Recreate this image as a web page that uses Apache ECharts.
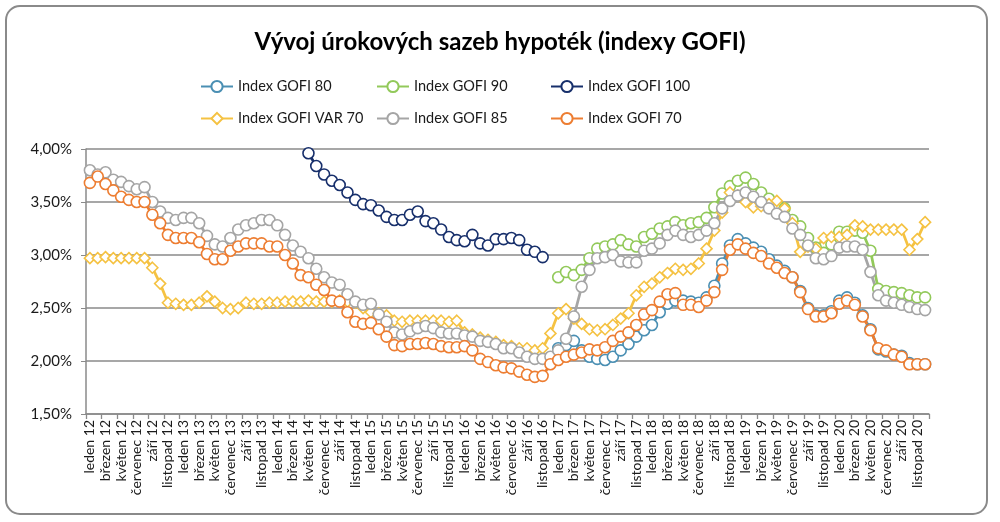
<!DOCTYPE html>
<html><head><meta charset="utf-8">
<script src="https://cdn.jsdelivr.net/npm/echarts@6/dist/echarts.min.js"></script>
<style>html,body{margin:0;padding:0;background:#fff}#c{width:1000px;height:522px}</style>
</head><body><div id="c"></div>
<script>
const monthNames = ['leden','únor','březen','duben','květen','červen','červenec','srpen','září','říjen','listopad','prosinec'];
const years = ['12','13','14','15','16','17','18','19','20'];
const categories = [];
years.forEach(y => monthNames.forEach(m => categories.push(m + ' ' + y)));

const yTicks = [1.5, 2.0, 2.5, 3.0, 3.5, 4.0];

const gofi80 = [
 null,null,null,null,null,null,null,null,null,null,null,null,
 null,null,null,null,null,null,null,null,null,null,null,null,
 null,null,null,null,null,null,null,null,null,null,null,null,
 null,null,null,null,null,null,null,null,null,null,null,null,
 null,null,null,null,null,null,null,null,null,null,null,null,
 2.12,2.15,2.19,2.10,2.04,2.02,2.01,2.04,2.10,2.16,2.23,2.29,
 2.34,2.46,2.54,2.57,2.57,2.56,2.55,2.60,2.71,2.92,3.09,3.15,
 3.11,3.07,3.03,2.96,2.90,2.85,2.79,2.66,2.50,2.43,2.43,2.47,
 2.57,2.60,2.55,2.43,2.30,2.11,2.09,2.06,2.05,1.98,1.97,1.97
];
const gofi90 = [
 null,null,null,null,null,null,null,null,null,null,null,null,
 null,null,null,null,null,null,null,null,null,null,null,null,
 null,null,null,null,null,null,null,null,null,null,null,null,
 null,null,null,null,null,null,null,null,null,null,null,null,
 null,null,null,null,null,null,null,null,null,null,null,null,
 2.79,2.84,2.81,2.86,2.97,3.06,3.08,3.10,3.14,3.10,3.08,3.17,
 3.20,3.25,3.27,3.31,3.28,3.30,3.31,3.35,3.45,3.58,3.65,3.70,
 3.73,3.67,3.59,3.53,3.48,3.44,3.33,3.27,3.16,3.07,3.02,3.10,
 3.22,3.22,3.23,3.21,3.04,2.68,2.66,2.65,2.64,2.62,2.60,2.60
];
const gofi100 = [
 null,null,null,null,null,null,null,null,null,null,null,null,
 null,null,null,null,null,null,null,null,null,null,null,null,
 null,null,null,null,3.96,3.84,3.76,3.70,3.66,3.59,3.52,3.48,
 3.47,3.42,3.36,3.33,3.33,3.38,3.41,3.32,3.30,3.24,3.17,3.14,
 3.13,3.19,3.11,3.09,3.15,3.15,3.16,3.14,3.05,3.03,2.98
];
const gofiVar70 = [
 2.97,2.97,2.98,2.97,2.97,2.97,2.97,2.97,2.88,2.73,2.55,2.54,
 2.53,2.53,2.55,2.61,2.56,2.50,2.49,2.50,2.55,2.54,2.54,2.55,
 2.55,2.56,2.56,2.56,2.57,2.56,2.56,2.56,2.57,2.56,2.55,2.50,
 2.46,2.45,2.43,2.38,2.37,2.38,2.38,2.38,2.38,2.38,2.37,2.38,
 2.27,2.25,2.22,2.20,2.18,2.15,2.14,2.12,2.12,2.10,2.12,2.26,
 2.45,2.49,2.40,2.35,2.30,2.29,2.30,2.34,2.40,2.45,2.62,2.70,
 2.73,2.79,2.83,2.87,2.86,2.87,2.92,3.06,3.23,3.40,3.59,3.56,
 3.50,3.45,3.46,3.48,3.51,3.44,3.30,3.03,3.08,3.06,3.16,3.17,
 3.17,3.19,3.28,3.27,3.24,3.24,3.24,3.24,3.24,3.05,3.15,3.31
];
const gofi85 = [
 3.80,3.76,3.78,3.71,3.69,3.65,3.62,3.64,3.50,3.41,3.35,3.33,
 3.35,3.35,3.30,3.18,3.10,3.08,3.16,3.24,3.28,3.30,3.33,3.33,
 3.28,3.19,3.09,3.03,2.97,2.87,2.79,2.74,2.72,2.63,2.56,2.53,
 2.54,2.44,2.37,2.27,2.25,2.28,2.31,2.33,2.31,2.27,2.26,2.26,
 2.24,2.23,2.19,2.18,2.16,2.12,2.12,2.08,2.04,2.02,2.02,2.04,
 2.10,2.21,2.42,2.70,2.86,2.97,2.98,3.00,2.94,2.93,2.93,3.04,
 3.06,3.11,3.19,3.23,3.19,3.17,3.19,3.23,3.30,3.44,3.51,3.56,
 3.59,3.55,3.50,3.44,3.39,3.36,3.25,3.19,3.09,2.97,2.96,2.99,
 3.07,3.08,3.08,3.05,2.84,2.62,2.57,2.55,2.53,2.51,2.49,2.48
];
const gofi70 = [
 3.68,3.74,3.67,3.61,3.55,3.52,3.50,3.50,3.38,3.30,3.19,3.16,
 3.16,3.16,3.12,3.01,2.96,2.96,3.04,3.08,3.11,3.11,3.11,3.08,
 3.08,3.00,2.92,2.81,2.79,2.72,2.67,2.57,2.56,2.46,2.37,2.35,
 2.36,2.30,2.23,2.15,2.14,2.16,2.16,2.17,2.16,2.14,2.13,2.13,
 2.14,2.10,2.02,1.99,1.96,1.94,1.93,1.90,1.87,1.85,1.86,1.97,
 2.01,2.04,2.06,2.08,2.11,2.10,2.13,2.19,2.23,2.27,2.34,2.44,
 2.48,2.56,2.63,2.64,2.53,2.53,2.51,2.57,2.65,2.86,3.05,3.10,
 3.06,3.02,2.99,2.92,2.88,2.83,2.79,2.65,2.49,2.42,2.42,2.45,
 2.54,2.57,2.53,2.42,2.29,2.12,2.10,2.06,2.04,1.97,1.97,1.97
];

const FONT = 'Lato';
function mk(name, data, color, symbol, size) {
  return {
    name: name, type: 'line', data: data, color: color,
    symbol: symbol, symbolSize: size, showSymbol: true, showAllSymbol: true,
    lineStyle: { color: color, width: 2.75 },
    itemStyle: { color: '#ffffff', borderColor: color, borderWidth: 1.6 },
    emphasis: { disabled: true }, animation: false, connectNulls: false
  };
}
const legendText = { fontFamily: FONT, fontSize: 14.5, color: '#1a1a1a' };
const chart = echarts.init(document.getElementById('c'), null, { renderer: 'canvas' });
chart.setOption({
  animation: false,
  backgroundColor: '#ffffff',
  title: {
    text: 'Vývoj úrokových sazeb hypoték (indexy GOFI)', left: 'center', top: 25,
    textStyle: { fontFamily: FONT, fontSize: 24, fontWeight: 'bold', color: '#000' }
  },
  graphic: [{
    type: 'rect', shape: { x: 6, y: 6, width: 981, height: 508, r: 14 },
    style: { fill: 'none', stroke: '#8a8a8a', lineWidth: 2 }, z: -1
  }],
  legend: [
    { data: ['Index GOFI 80', 'Index GOFI VAR 70'], left: 195, top: 74, orient: 'vertical',
      itemWidth: 32, itemHeight: 14, itemGap: 17, textStyle: legendText },
    { data: ['Index GOFI 90', 'Index GOFI 85'], left: 371, top: 74, orient: 'vertical',
      itemWidth: 32, itemHeight: 14, itemGap: 17, textStyle: legendText },
    { data: ['Index GOFI 100', 'Index GOFI 70'], left: 545, top: 74, orient: 'vertical',
      itemWidth: 32, itemHeight: 14, itemGap: 17, textStyle: legendText }
  ],
  grid: { left: 86, right: 71, top: 149, bottom: 108, containLabel: false },
  xAxis: {
    type: 'category', data: categories, boundaryGap: true,
    axisLine: { lineStyle: { color: '#8a8a8a', width: 1.5 } },
    axisTick: { show: true, interval: 1, length: 5, lineStyle: { color: '#8a8a8a', width: 1.3 } },
    axisLabel: { interval: 1, rotate: 90, fontFamily: FONT, fontSize: 14, color: '#1a1a1a', margin: 6 }
  },
  yAxis: {
    type: 'value', min: yTicks[0], max: yTicks[yTicks.length - 1], interval: 0.5,
    axisLine: { show: true, lineStyle: { color: '#8a8a8a', width: 1.5 } },
    axisTick: { show: true, length: 5, inside: false, lineStyle: { color: '#8a8a8a' } },
    splitLine: { lineStyle: { color: '#8a8a8a', width: 1.5 } },
    axisLabel: { fontFamily: FONT, fontSize: 15, color: '#1a1a1a', margin: 14,
      formatter: v => v.toFixed(2).replace('.', ',') + '%' }
  },
  series: [
    mk('Index GOFI 80', gofi80, '#4A8FB3', 'circle', 11),
    mk('Index GOFI 90', gofi90, '#92C95A', 'circle', 11),
    mk('Index GOFI 100', gofi100, '#172F6B', 'circle', 11),
    mk('Index GOFI VAR 70', gofiVar70, '#F5C242', 'diamond', 11),
    mk('Index GOFI 85', gofi85, '#A5A5A5', 'circle', 11),
    mk('Index GOFI 70', gofi70, '#ED7D31', 'circle', 11)
  ]
});
</script>
</body></html>
